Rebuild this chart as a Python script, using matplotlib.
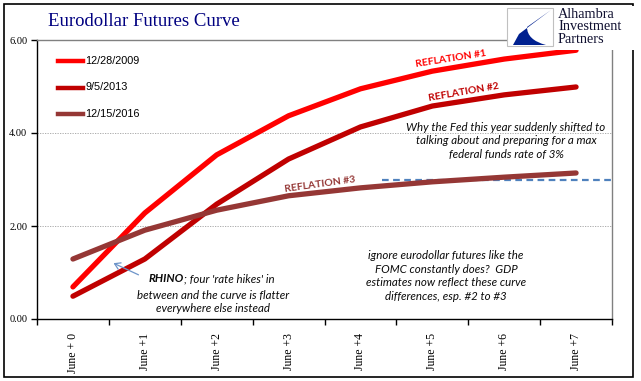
import numpy as np
import matplotlib
matplotlib.use("Agg")
import matplotlib.pyplot as plt
import matplotlib.patches as mpatches
from matplotlib.path import Path

# data
contracts = ["June + 0", "June +1", "June +2", "June +3", "June +4", "June +5", "June +6", "June +7"]
curve_2009 = [0.69, 2.28, 3.53, 4.37, 4.95, 5.33, 5.59, 5.78]
curve_2013 = [0.49, 1.29, 2.47, 3.44, 4.13, 4.58, 4.82, 4.99]
curve_2016 = [1.29, 1.91, 2.34, 2.65, 2.82, 2.95, 3.05, 3.14]
series_labels = ["12/28/2009", "9/5/2013", "12/15/2016"]
series_colors = ["#FF0000", "#C00000", "#953735"]
max_ffr = 3.0
y_ticks = [0, 2, 4, 6]

W, H = 641, 381


def fx(px):
    return px / W


def fy(py):
    return 1 - py / H


fig = plt.figure(figsize=(W / 100, H / 100), dpi=100)
fig.patch.set_facecolor("white")

# outer frame
fig.add_artist(mpatches.Rectangle((fx(4), fy(377)), fx(633) - fx(4), fy(4) - fy(377),
                                  transform=fig.transFigure, fill=False, edgecolor="black", lw=1.2))

ax = fig.add_axes([fx(37), fy(319), fx(612) - fx(37), fy(40) - fy(319)])
x = np.arange(len(contracts))

for vals, col in zip([curve_2009, curve_2013, curve_2016], series_colors):
    ax.plot(x, vals, color=col, lw=3.8, solid_capstyle="round", solid_joinstyle="round", zorder=3)

ax.set_xlim(-0.5, len(contracts) - 0.5)
ax.set_ylim(0, 6)

# axes styling
for s in ["top", "right"]:
    ax.spines[s].set_color("#808080")
    ax.spines[s].set_linewidth(1.0)
for s in ["left", "bottom"]:
    ax.spines[s].set_color("black")
    ax.spines[s].set_linewidth(1.0)

ax.set_yticks(y_ticks)
ax.set_yticklabels([f"{v:.2f}" for v in y_ticks], fontsize=7.5, family="Liberation Serif")
ax.tick_params(axis="y", length=4, width=1, direction="out", pad=3)
for v in [2, 4]:
    ax.axhline(v, color="#A0A0A0", lw=0.6, ls=(0, (1.5, 1.5)), zorder=1)

ax.set_xticks(x)
ax.set_xticklabels(contracts, rotation=90, fontsize=8.5, family="Liberation Serif", va="top")
ax.tick_params(axis="x", which="major", length=0, pad=10)
ax.set_xticks(np.arange(-0.5, len(contracts)), minor=True)
ax.tick_params(axis="x", which="minor", length=4, width=1, direction="out")

# dashed 3% line
ax.plot([4.3, 7.5], [max_ffr, max_ffr], color="#4F81BD", lw=1.6, ls=(0, (3, 2)), zorder=2, clip_on=False)

# legend drawn manually
for i, (lab, col) in enumerate(zip(series_labels, series_colors)):
    yy = fy(61 + 26.5 * i)
    fig.add_artist(plt.Line2D([fx(58), fx(83)], [yy, yy], color=col, lw=3.2, transform=fig.transFigure))
    fig.text(fx(85), yy, lab, fontsize=7.8, family="Liberation Sans", va="center", ha="left")

# title
fig.text(fx(48), fy(21), "Eurodollar Futures Curve", fontsize=13.5, family="Liberation Serif",
         color="#000080", va="center", ha="left")

# logo
fig.add_artist(mpatches.Rectangle((fx(507), fy(46)), fx(553) - fx(507), fy(8) - fy(46),
                                  transform=fig.transFigure, facecolor="white", edgecolor="#C0C0C0",
                                  lw=0.8, zorder=5))
verts = [(551, 10), (519, 34), (513, 45), (546, 45), (527, 40), (527, 27), (551, 10)]
codes = [Path.MOVETO, Path.LINETO, Path.LINETO, Path.LINETO, Path.CURVE3, Path.LINETO, Path.CLOSEPOLY]
fig.add_artist(mpatches.PathPatch(Path([(fx(a), fy(b)) for a, b in verts], codes),
                                  transform=fig.transFigure, facecolor="#00208F", edgecolor="none", zorder=6))
fig.add_artist(mpatches.Rectangle((fx(554), fy(50)), fx(636) - fx(554), fy(6) - fy(50),
                                  transform=fig.transFigure, facecolor="white", edgecolor="none", zorder=4))
fig.text(fx(558), fy(27), "Alhambra\nInvestment\nPartners", fontsize=10.3, family="Liberation Serif",
         color="#101030", va="center", ha="left", linespacing=0.95, zorder=6)

# reflation labels
fig.text(fx(451), fy(59), "REFLATION #1", fontsize=7.5, family="Lato", weight="bold",
         color=series_colors[0], rotation=9, ha="center", va="center", rotation_mode="anchor")
fig.text(fx(464), fy(92), "REFLATION #2", fontsize=7.5, family="Lato", weight="bold",
         color=series_colors[1], rotation=10, ha="center", va="center", rotation_mode="anchor")
fig.text(fx(320), fy(185), "REFLATION #3", fontsize=7.5, family="Lato", weight="bold",
         color=series_colors[2], rotation=8, ha="center", va="center", rotation_mode="anchor")

# commentary
note_kw = dict(fontsize=8.3, family="Lato", style="italic", color="#0A0A0A")
fig.text(fx(506), fy(141), "Why the Fed this year suddenly shifted to\ntalking about and preparing for a max\n"
         "federal funds rate of 3%", ha="center", va="center", linespacing=1.3, **note_kw)
fig.text(fx(446), fy(276), "ignore eurodollar futures like the\nFOMC constantly does?  GDP\n"
         "estimates now reflect these curve\ndifferences, esp. #2 to #3", ha="center", va="center",
         linespacing=1.3, **note_kw)

t1 = fig.text(fx(149), fy(279), "RHINO", weight="bold", ha="left", va="center", **note_kw)
ax.annotate("; four 'rate hikes' in", xy=(1, 0), xycoords=t1, ha="left", va="bottom",
            annotation_clip=False, **note_kw)
fig.text(fx(213), fy(302), "between and the curve is flatter\neverywhere else instead", ha="center",
         va="center", linespacing=1.3, **note_kw)

# arrow to the crossing
fig.add_artist(mpatches.FancyArrowPatch((fx(141), fy(276)), (fx(111), fy(262)),
                                        transform=fig.transFigure, arrowstyle="->,head_length=4,head_width=2.5",
                                        color="#6D94C9", lw=0.9))

fig.savefig("out.png", dpi=100)
